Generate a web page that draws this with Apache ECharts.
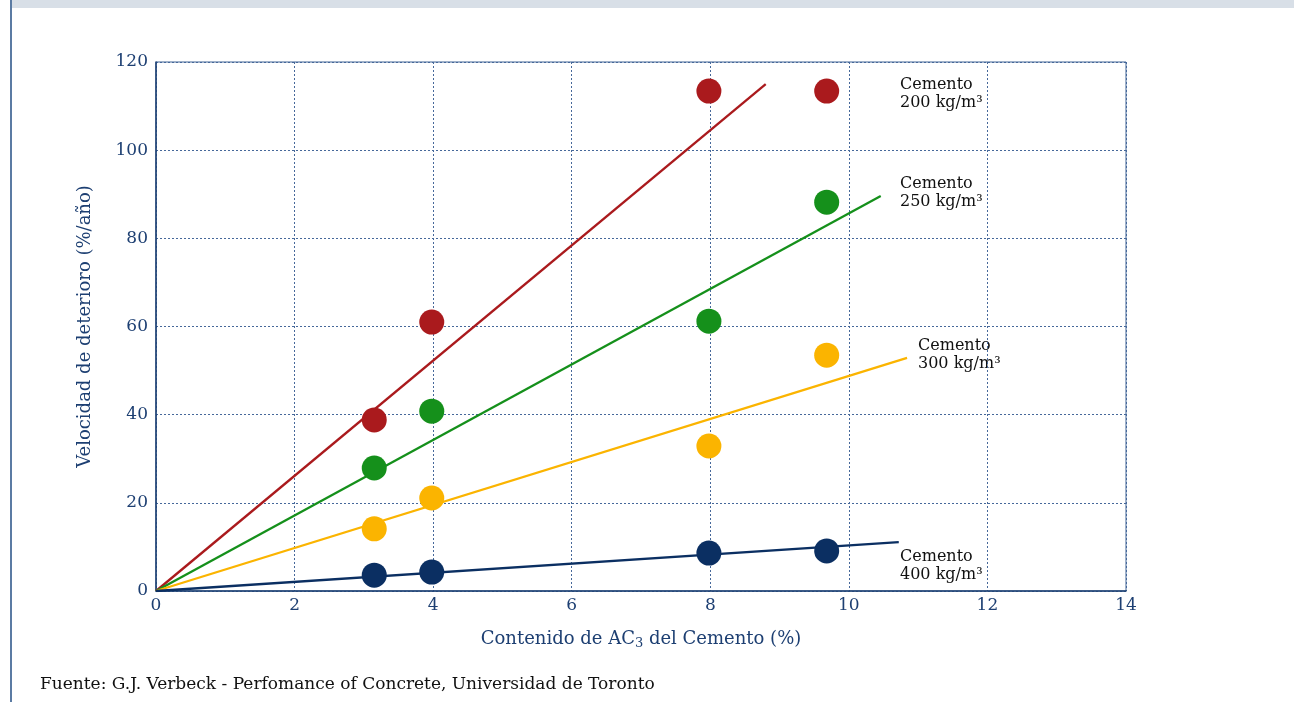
<!DOCTYPE html>
<html>
<head>
<meta charset="utf-8">
<script src="https://cdn.jsdelivr.net/npm/echarts@6/dist/echarts.min.js"></script>
<style>
  html, body { margin: 0; padding: 0; background: #fff; }
  #chart { width: 1294px; height: 702px; }
</style>
</head>
<body>
<div id="chart"></div>
<script>
// Contenido de AC3 (%) de cada ensayo
const xAc3 = [3.15, 3.98, 7.98, 9.68];
// Velocidad de deterioro (%/año) por contenido de cemento
const cem200 = [38.8, 61, 113.4, 113.4];
const cem250 = [27.9, 40.8, 61.2, 88.2];
const cem300 = [14.1, 21.1, 32.9, 53.5];
const cem400 = [3.6, 4.3, 8.6, 9.1];
// rectas de ajuste: origen y extremo
const fit200 = [[0, 0], [8.8, 115]];
const fit250 = [[0, 0], [10.46, 89.6]];
const fit300 = [[0, 0], [10.84, 52.9]];
const fit400 = [[0, 0], [10.72, 11.1]];
const xTicks = [0, 2, 4, 6, 8, 10, 12, 14];
const yTicks = [0, 20, 40, 60, 80, 100, 120];

const navy = '#1d3f72';
const serif = '"DejaVu Serif", "Liberation Serif", serif';

const chart = echarts.init(document.getElementById('chart'));

function pts(ys) {
  return xAc3.map((x, i) => [x, ys[i]]);
}
function scatter(ys, color) {
  return {
    type: 'scatter', data: pts(ys), symbolSize: 25, z: 5,
    itemStyle: {color: color, opacity: 1}
  };
}
function fit(data, color) {
  return {
    type: 'line', data: data, symbol: 'none', z: 4,
    lineStyle: {color: color, width: 2.3}
  };
}
function label(x, y, kg) {
  return {
    type: 'text', left: x, top: y,
    style: {
      text: 'Cemento\n' + kg + ' kg/m³',
      font: '16px ' + serif, fill: '#111', lineHeight: 18
    }
  };
}

chart.setOption({
  animation: false,
  grid: {left: 156, top: 62, width: 970, height: 529, show: true, borderColor: '#3f6294', borderWidth: 1},
  xAxis: {
    type: 'value', min: 0, max: 14, interval: 2,
    name: 'Contenido de AC{sub|3} del Cemento (%)',
    nameLocation: 'middle', nameGap: 37,
    nameTextStyle: {
      color: navy, fontFamily: serif, fontSize: 18,
      rich: {sub: {fontSize: 13, verticalAlign: 'bottom', padding: [9, 0, 0, 0], color: navy, fontFamily: serif}}
    },
    axisLine: {lineStyle: {color: navy, width: 1.5}},
    axisTick: {show: false},
    axisLabel: {color: navy, fontFamily: serif, fontSize: 17, margin: 6,
      formatter: v => xTicks.includes(v) ? String(v) : ''},
    splitLine: {lineStyle: {color: '#46689a', type: [2, 2], width: 1}}
  },
  yAxis: {
    type: 'value', min: 0, max: 120, interval: 20,
    name: 'Velocidad de deterioro (%/año)',
    nameLocation: 'middle', nameGap: 62,
    nameTextStyle: {color: navy, fontFamily: serif, fontSize: 18},
    axisLine: {show: true, lineStyle: {color: navy, width: 1.5}},
    axisTick: {show: false},
    axisLabel: {color: navy, fontFamily: serif, fontSize: 17, margin: 8,
      formatter: v => yTicks.includes(v) ? String(v) : ''},
    splitLine: {lineStyle: {color: '#46689a', type: [2, 2], width: 1}}
  },
  series: [
    fit(fit200, '#aa1a1d'),
    fit(fit250, '#15901b'),
    fit(fit300, '#fbb400'),
    fit(fit400, '#0b2f62'),
    scatter(cem200, '#aa1a1d'),
    scatter(cem250, '#15901b'),
    scatter(cem300, '#fbb400'),
    scatter(cem400, '#0b2f62')
  ],
  graphic: [
    {type: 'rect', left: 12, top: 0, shape: {width: 1282, height: 8}, style: {fill: '#d8dfe7'}},
    {type: 'rect', left: 10, top: 0, shape: {width: 2, height: 702}, style: {fill: '#5b7ba3'}},
    label(900, 76, '200'),
    label(900, 175, '250'),
    label(918, 337, '300'),
    label(900, 548, '400'),
    {
      type: 'text', left: 40, top: 676,
      style: {text: 'Fuente: G.J. Verbeck - Perfomance of Concrete, Universidad de Toronto',
        font: '17px ' + serif, fill: '#111'}
    }
  ]
});
</script>
</body>
</html>
